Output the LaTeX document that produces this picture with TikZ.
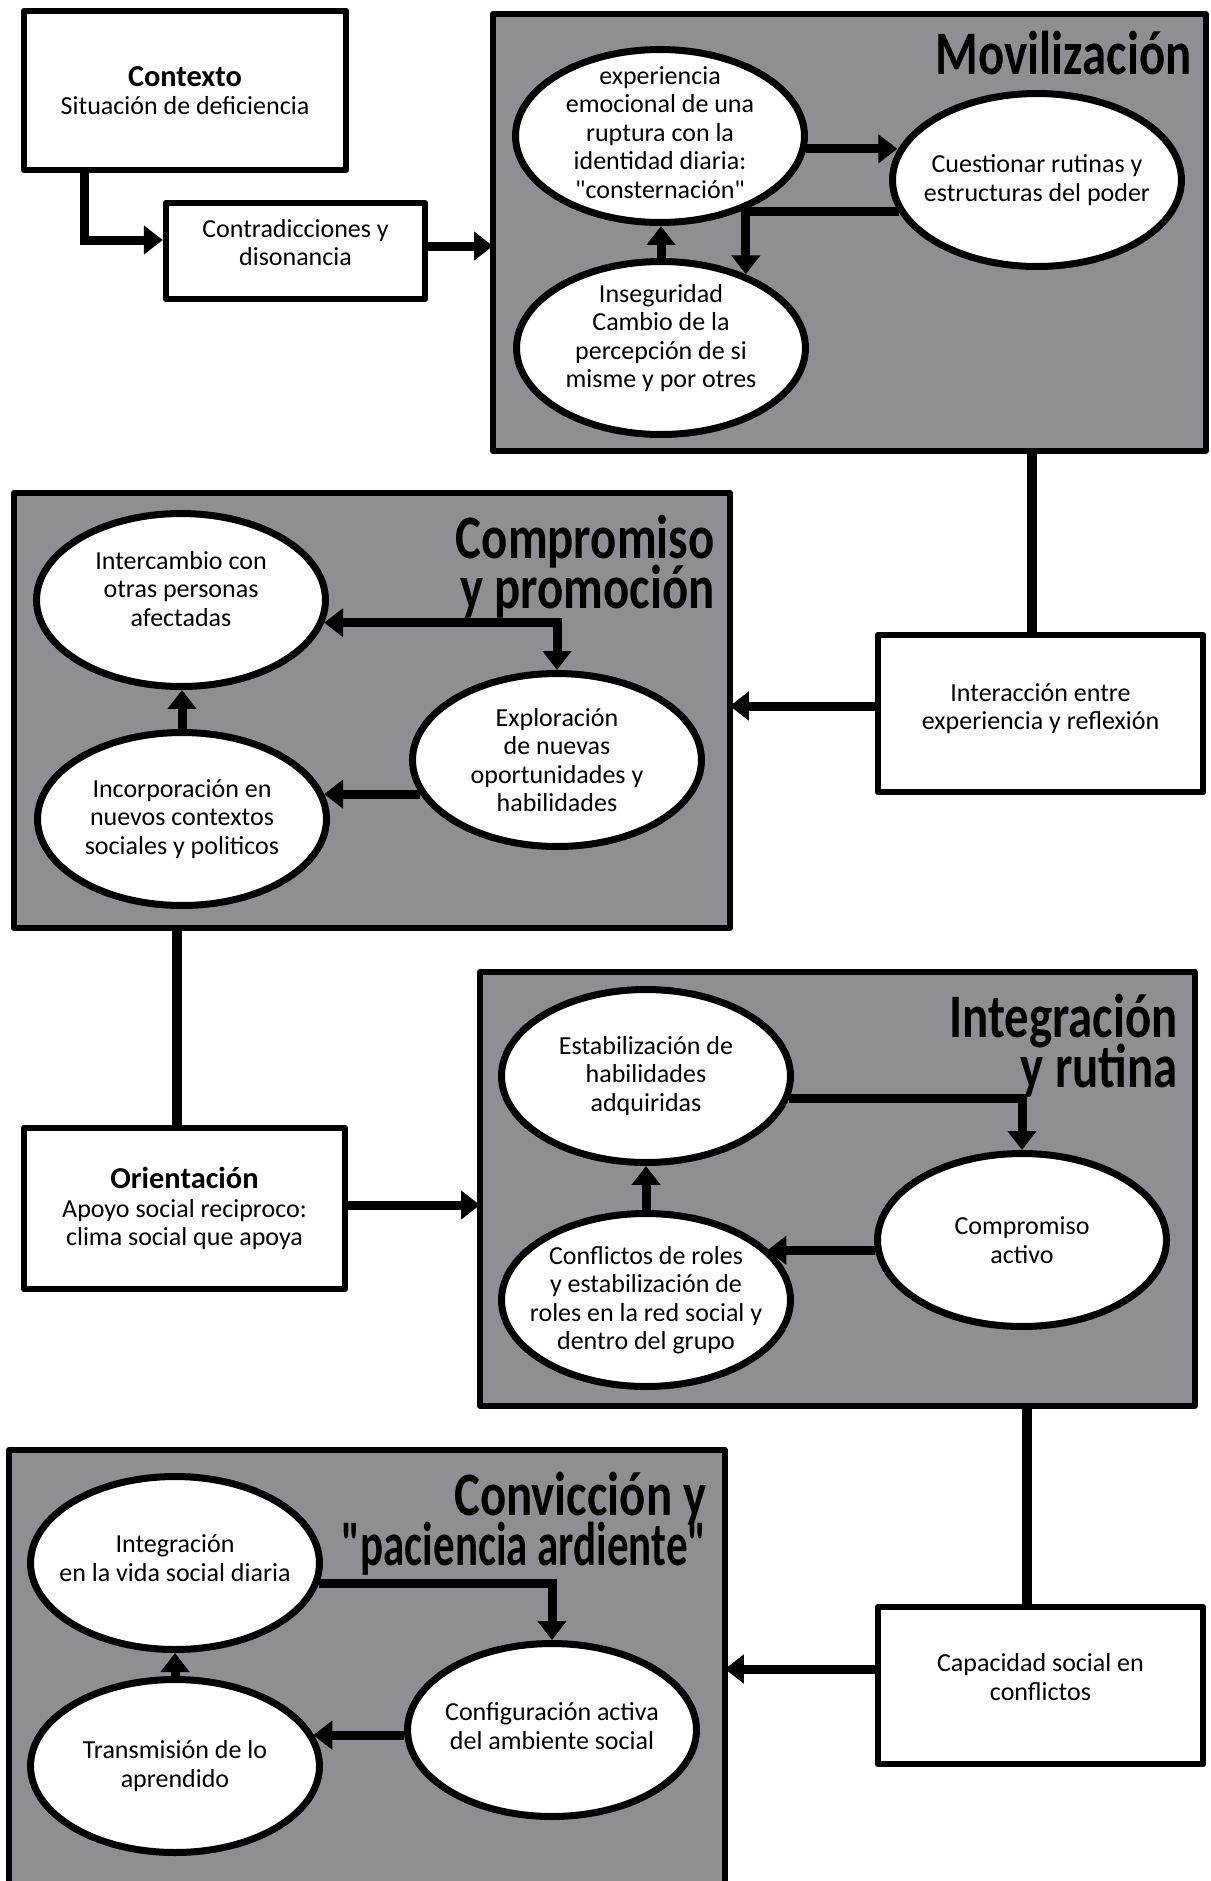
\documentclass[tikz,border=0pt]{standalone}
\usepackage{fontspec}
\setmainfont{Carlito}[Ligatures=TeXOff]
\newfontfamily\titlefont[FakeStretch=0.79,Ligatures=TeXOff]{Carlito}
\usetikzlibrary{arrows.meta,shapes.geometric}
\definecolor{panelgray}{RGB}{142,143,147}
\def\bodyfont{\fontsize{14.8}{16.2}\selectfont}
\def\headfont{\bfseries\fontsize{17.3}{16.2}\selectfont}
\def\arr{\draw[flecha]}
\def\conn{\draw[enlace]}
\tikzset{
  panel/.style={draw, fill=panelgray, line width=0.12cm, line join=round, anchor=north west, inner sep=0pt, outer sep=0pt},
  caja/.style={draw, fill=white, line width=0.13cm, line join=round, align=center, font=\bodyfont},
  burbuja/.style={ellipse, draw, fill=white, line width=0.14cm, minimum width=5.78cm, minimum height=3.46cm},
  burtxt/.style={align=center, font=\bodyfont, inner sep=0pt},
  titulo/.style={align=right, anchor=base east, inner sep=0pt, font={\titlefont\bfseries\fontsize{35.2}{29}\selectfont\lineskiplimit=-40pt}},
  flecha/.style={line width=0.18cm, -{Triangle[length=0.38cm,width=0.56cm]}},
  dobleflecha/.style={line width=0.18cm, {Triangle[length=0.38cm,width=0.56cm]}-{Triangle[length=0.38cm,width=0.56cm]}},
  enlace/.style={line width=0.2cm},
}

\begin{document}
\begin{tikzpicture}[x=0.02cm, y=-0.02cm]
\useasboundingbox (0,0) rectangle (1211,1881);
\clip (0,0) rectangle (1211,1881);

% paneles
\node[panel, minimum width=14.26cm, minimum height=8.74cm] (movil) at (493,14) {};
\node[panel, minimum width=14.32cm, minimum height=8.70cm] (compr) at (14,493) {};
\node[panel, minimum width=14.30cm, minimum height=8.68cm] (integ) at (480,972) {};
\node[panel, minimum width=14.32cm, minimum height=8.70cm] (conv) at (9,1450) {};

% titulos (la linea base es la de la ultima linea)
\node[titulo] (t-movil) at ([xshift=-0.28cm,yshift=-1.22cm]movil.north east) {Movilización};
\node[titulo] (t-compr) at ([xshift=-0.30cm,yshift=-2.32cm]compr.north east) {Compromiso\\y promoción};
\node[titulo] (t-integ) at ([xshift=-0.34cm,yshift=-2.32cm]integ.north east) {Integración\\y rutina};
\node[titulo] (t-conv) at ([xshift=-0.36cm,yshift=-2.32cm]conv.north east) {Convicción y\\\scalebox{0.88}[1]{"paciencia ardiente"}};

% cajas
\node[caja, minimum width=6.44cm, minimum height=3.18cm] (ctx) at (185,90.5) {{\headfont Contexto}\\Situación de deficiencia};
\node[caja, minimum width=5.18cm, minimum height=1.92cm] (contr) at (295.5,251) {};
\node[burtxt] (t-contr) at ([yshift=0.17cm]contr.center) {Contradicciones y\\disonancia};
\node[caja, minimum width=6.5cm, minimum height=3.14cm] (inter) at (1040.5,713.5) {};
\node[burtxt] (t-inter) at ([yshift=0.1cm]inter.center) {Interacción entre\\experiencia y reflexión};
\node[caja, minimum width=6.42cm, minimum height=3.22cm] (orient) at (184.5,1208.5) {{\headfont Orientación}\\Apoyo social reciproco:\\clima social que apoya};
\node[caja, minimum width=6.5cm, minimum height=3.14cm] (cap) at (1040.5,1685.5) {};
\node[burtxt] (t-cap) at ([yshift=0.17cm]cap.center) {Capacidad social en\\conflictos};

% burbujas
\node[burbuja] (exper) at (660,136) {};
\node[burbuja] (cuest) at (1037,180) {};
\node[burbuja] (inseg) at (661,348) {};
\node[burtxt] (t-exper) at ([yshift=0.07cm]exper.center) {experiencia\\emocional de una\\ruptura con la\\identidad diaria:\\"consternación"};
\node[burtxt] (t-cuest) at (cuest) {Cuestionar rutinas y\\estructuras del poder};
\node[burtxt] (t-inseg) at ([yshift=0.2cm]inseg.center) {Inseguridad\\Cambio de la\\percepción de si\\misme y por otres};

\node[burbuja] (interc) at (181,600) {};
\node[burbuja] (explor) at (557,760) {};
\node[burbuja] (incorp) at (182,819) {};
\node[burtxt] (t-interc) at ([yshift=0.22cm]interc.center) {Intercambio con\\otras personas\\afectadas};
\node[burtxt] (t-explor) at (explor) {Exploración\\de nuevas\\oportunidades y\\habilidades};
\node[burtxt] (t-incorp) at (incorp) {Incorporación en\\nuevos contextos\\sociales y politicos};

\node[burbuja] (estab) at (646,1076) {};
\node[burbuja] (compact) at (1022,1240) {};
\node[burbuja] (confl) at (646,1300) {};
\node[burtxt] (t-estab) at (estab) {Estabilización de\\habilidades\\adquiridas};
\node[burtxt] (t-compact) at (compact) {Compromiso\\activo};
\node[burtxt] (t-confl) at (confl) {Conflictos de roles\\y estabilización de\\roles en la red social y\\dentro del grupo};

\node[burbuja] (integv) at (175,1563) {};
\node[burbuja] (config) at (552,1730) {};
\node[burbuja] (transm) at (175,1766) {};
\node[burtxt] (t-integv) at ([yshift=0.1cm]integv.center) {Integración\\en la vida social diaria};
\node[burtxt] (t-config) at ([yshift=0.08cm]config.center) {Configuración activa\\del ambiente social};
\node[burtxt] (t-transm) at (transm) {Transmisión de lo\\aprendido};

% flujo principal
\arr ([xshift=-2.02cm]ctx.south) |- ([yshift=0.22cm]contr.west);
\arr ([yshift=0.1cm]contr.east) -- ([yshift=0.1cm]contr.east -| movil.west);
\conn ([xshift=-0.17cm]inter.north) -- ([xshift=-0.17cm]inter.north |- movil.south);
\arr ([yshift=0.15cm]inter.west) -- ([yshift=0.15cm]inter.west -| compr.east);
\conn ([xshift=-0.15cm]orient.north) -- ([xshift=-0.15cm]orient.north |- compr.south);
\arr ([yshift=0.07cm]orient.east) -- ([yshift=0.07cm]orient.east -| integ.west);
\conn ([xshift=-0.27cm]cap.north) -- ([xshift=-0.27cm]cap.north |- integ.south);
\arr ([yshift=0.33cm]cap.west) -- ([yshift=0.33cm]cap.west -| conv.east);

% ciclos
\arr (exper.-5) -- (exper.-5 -| cuest.168);
\arr (cuest.193) -| (inseg.41);
\arr (inseg.north) -- (inseg.north |- exper.south);

\draw[dobleflecha] (interc.-9) -| (explor.north);
\arr (explor.194) -- (explor.194 -| incorp.10);
\arr (incorp.north) -- (incorp.north |- interc.south);

\arr (estab.-9) -| (compact.north);
\arr (compact.184) -- (compact.184 -| confl.23);
\arr (confl.north) -- (confl.north |- estab.south);

\arr (integv.-8) -| (config.north);
\arr (config.182) -- (config.182 -| transm.13);
\arr (transm.north) -- (transm.north |- integv.south);
\end{tikzpicture}
\end{document}
